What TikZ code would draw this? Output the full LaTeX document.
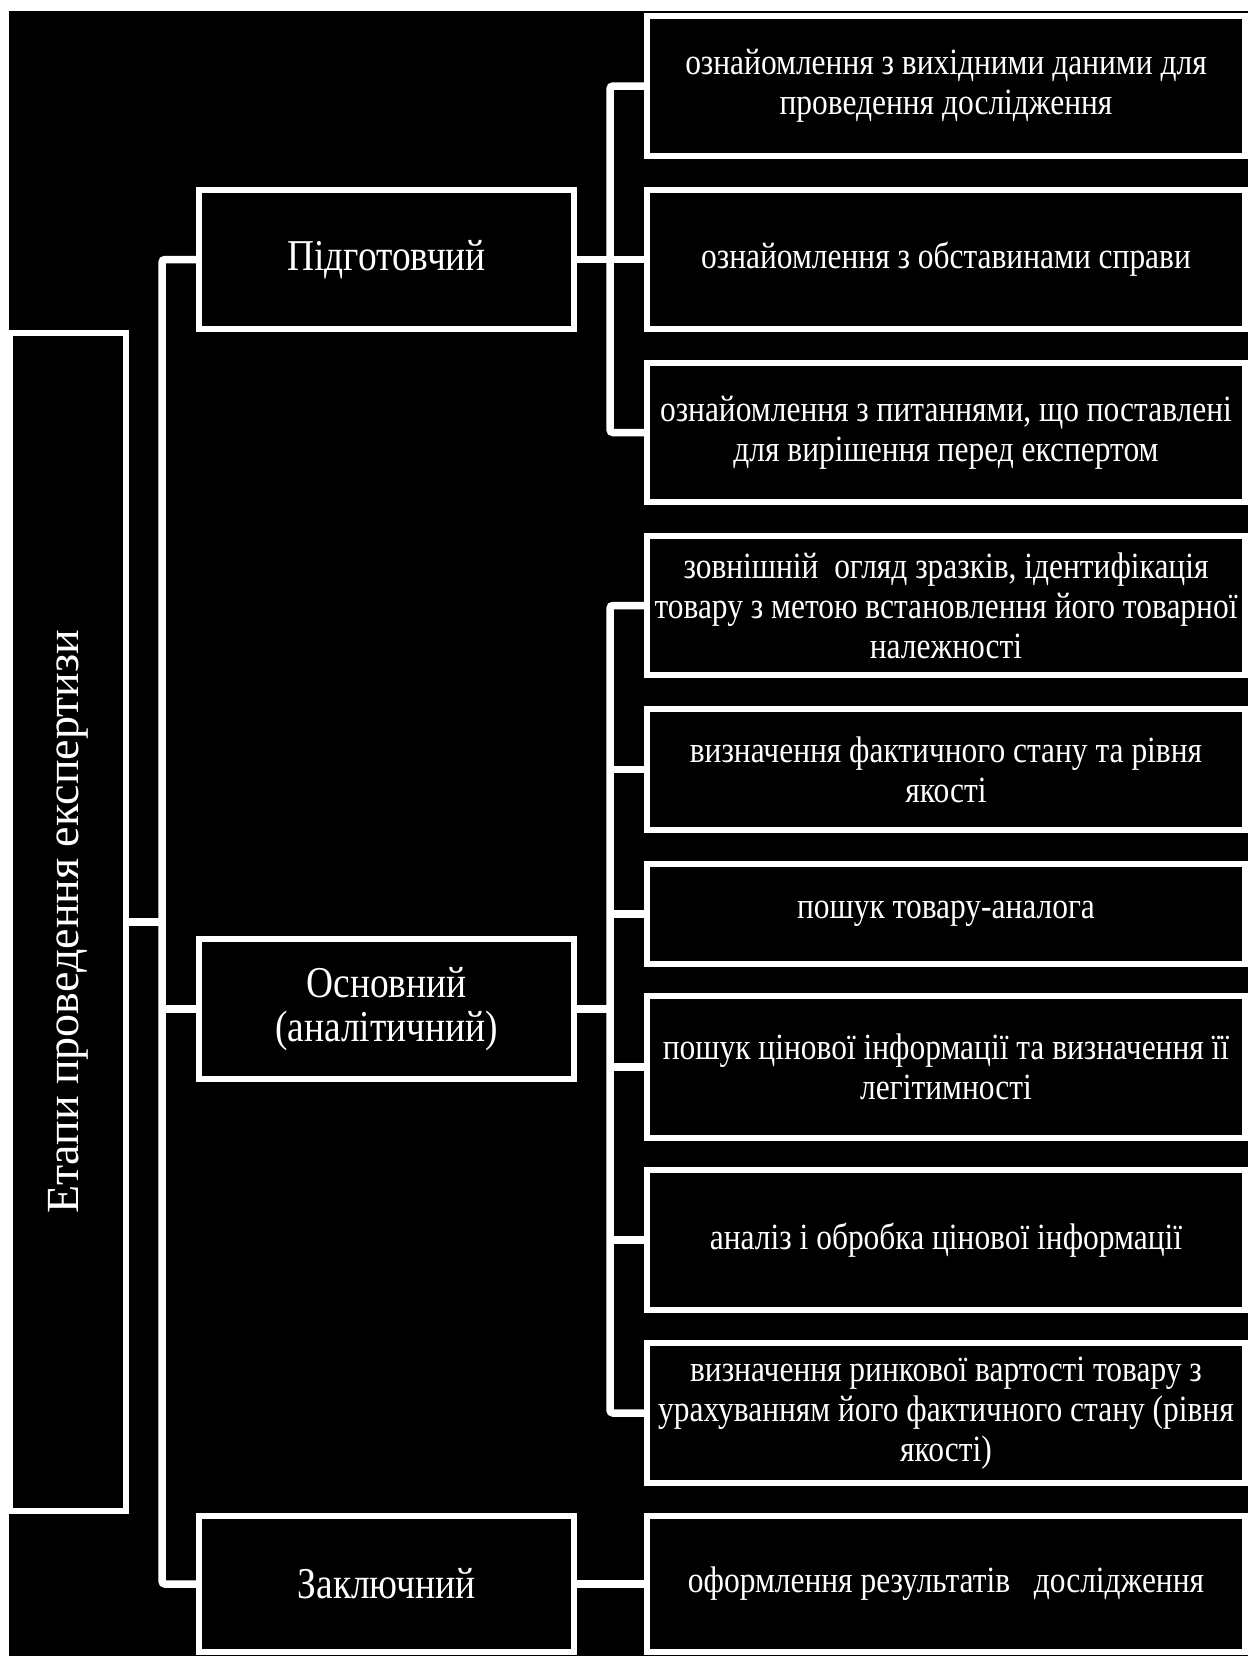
\documentclass[tikz,border=0pt]{standalone}
\usepackage{fontspec}
\setmainfont{Liberation Serif}[FakeStretch=0.85]
\newfontfamily\rootfont{Liberation Serif}
\pgfdeclarelayer{base}
\pgfdeclarelayer{bg}
\pgfsetlayers{base,bg,main}
\tikzset{
  box/.style={draw=white, line width=3.25pt, fill=black, text=white, align=center,
    inner sep=0pt, font=\fontsize{18.5}{20}\selectfont},
  midbox/.style={box, font=\fontsize{22}{22}\selectfont},
  conn/.style={draw=white, line width=3.75pt, rounded corners=1.5pt}
}
% name, style, x1, y1, x2, y2, text (px, centre line of border)
\newcommand\mkbox[7]{\node[#2, minimum width={(#5-#3)*0.5pt}, minimum height={(#6-#4)*0.5pt}]
  (#1) at ({(#3+#5)/2},{(#4+#6)/2}) {#7};}
\begin{document}
\begin{tikzpicture}[x=0.5pt,y=-0.5pt]
\useasboundingbox (0,0) rectangle (1248,1656);
\begin{pgfonlayer}{base}
  \fill[white] (0,0) rectangle (1248,1656);
  \fill[black] (9,11) rectangle (1248,1656);
\end{pgfonlayer}

% root (rotated)
\node[box, rotate=90, minimum width=589pt, minimum height=58pt,
  font=\rootfont\fontsize{23}{24}\selectfont] (root) at (68,922)
  {Етапи проведення експертизи};

% level 2
\mkbox{p1}{midbox}{199}{190}{574}{329}{Підготовчий}
\mkbox{p2}{midbox}{199}{939}{574}{1079}{Основний\\(аналітичний)}
\mkbox{p3}{midbox}{199}{1516}{574}{1652}{Заключний}

% level 3
\mkbox{b1}{box}{647}{16}{1245}{156}{ознайомлення з вихідними даними для\\проведення дослідження}
\mkbox{b2}{box}{647}{190}{1245}{329}{ознайомлення з обставинами справи}
\mkbox{b3}{box}{647}{363}{1245}{502}{ознайомлення з питаннями, що поставлені\\для вирішення перед експертом}
\mkbox{b4}{box}{647}{536}{1245}{675}{зовнішній\ \ огляд зразків, ідентифікація\\товару з метою встановлення його товарної\\належності}
\mkbox{b5}{box}{647}{709}{1245}{830}{визначення фактичного стану та рівня\\якості}
\mkbox{b6}{box}{647}{864}{1245}{964}{пошук товару-аналога}
\mkbox{b7}{box}{647}{996}{1245}{1138}{пошук цінової інформації та визначення її\\легітимності}
\mkbox{b8}{box}{647}{1170}{1245}{1310}{аналіз і обробка цінової інформації}
\mkbox{b9}{box}{647}{1343}{1245}{1483}{визначення ринкової вартості товару з\\урахуванням його фактичного стану (рівня\\якості)}
\mkbox{b10}{box}{647}{1516}{1245}{1652}{оформлення результатів\ \ \ дослідження}

\coordinate (L) at (162,0);
\coordinate (R) at (610,0);

\begin{pgfonlayer}{bg}
  \draw[conn] (root.south) -- (root.south -| L);
  \draw[conn] (p1.west) -- (p1.west -| L) -- (p3.west -| L) -- (p3.west);
  \draw[conn] (p2.west) -- (p2.west -| L);

  \draw[conn] (p1.east) -- (b2.west);
  \draw[conn] (b1.west) -- (b1.west -| R) -- (b3.west -| R) -- (b3.west);

  \draw[conn] (p2.east) -- (p2.east -| R);
  \draw[conn] (b4.west) -- (b4.west -| R) -- (b9.west -| R) -- (b9.west);
  \draw[conn] (b5.west) -- (b5.west -| R);
  \draw[conn] (b6.west) -- (b6.west -| R);
  \draw[conn] (b7.west) -- (b7.west -| R);
  \draw[conn] (b8.west) -- (b8.west -| R);

  \draw[conn] (p3.east) -- (b10.west);
\end{pgfonlayer}
\end{tikzpicture}
\end{document}
